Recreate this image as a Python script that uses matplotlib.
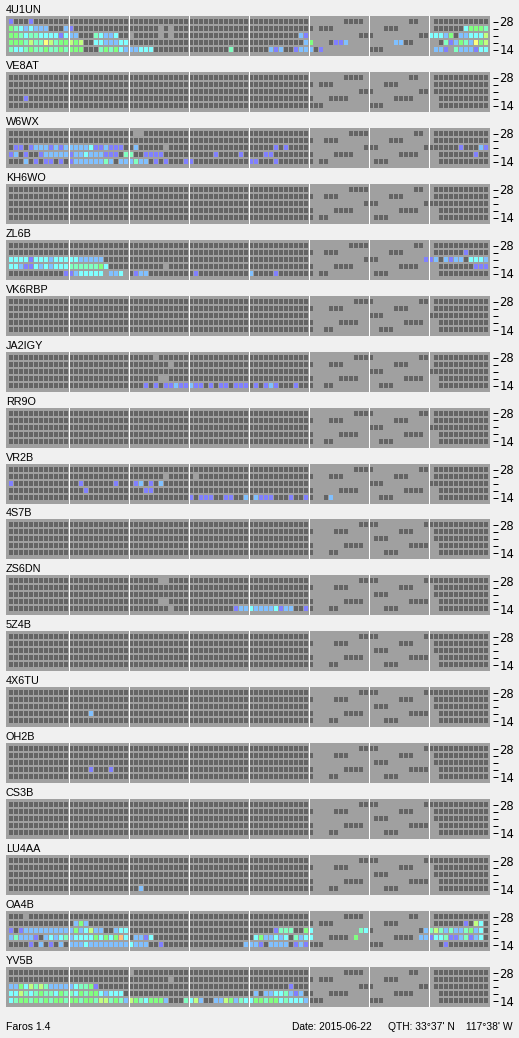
import numpy as np
import matplotlib
matplotlib.use("Agg")
import matplotlib.pyplot as plt
from matplotlib.colors import ListedColormap, BoundaryNorm

W, H, DPI = 519, 1038, 100

beacons = ["4U1UN", "VE8AT", "W6WX", "KH6WO", "ZL6B", "VK6RBP", "JA2IGY", "RR9O",
           "VR2B", "4S7B", "ZS6DN", "5Z4B", "4X6TU", "OH2B", "CS3B", "LU4AA",
           "OA4B", "YV5B"]
band_labels = ["28", "", "", "", "14"]          # rows top -> bottom (28,24,21,18,14 MHz)
n_slots = 96                                     # 15-minute slots over 24 h

# monitored (dark) slot ranges per band row, shared pattern
base_dark = [
    [(0, 59), (68, 71), (81, 82), (85, 95)],
    [(0, 60), (63, 65), (76, 78), (85, 95)],
    [(0, 59), (71, 73), (83, 84), (85, 95)],
    [(0, 60), (65, 68), (78, 81), (86, 95)],
    [(0, 60), (62, 63), (73, 75), (86, 95)],
]
# slot offset of the sparse monitoring pattern for each beacon
gray_shift = [-1, -1, 0, 0, 0, 1, 1, 1, 1, 2, 2, 2, 2, 2, 2, 2, -1, -1]

# codes: '#' monitored/no signal, '_' no data, '1'..'8' signal level, '.' keep
overlays = {
    "4U1UN": [(0, 0, "1"), (0, 4, "1"),
              (1, 0, "54323222"), (1, 11, "21"), (1, 30, "_._"), (1, 91, "35554"),
              (2, 0, "55434433331322"), (2, 17, "43223"), (2, 24, "_"), (2, 30, "_._"),
              (2, 58, "21"), (2, 84, "33325#223336"),
              (3, 0, "555464476455656"), (3, 17, "3322233"), (3, 59, "25"), (3, 65, "112"),
              (3, 77, "22"), (3, 87, "412542756"),
              (4, 0, "433454454454555"), (4, 18, "45453222333"), (4, 44, "4"),
              (4, 52, "212##1222"), (4, 62, "1"), (4, 85, "221_4222133")],
    "VE8AT": [(3, 3, "1")],
    "W6WX": [(0, 25, "__"),
             (2, 1, "11#1222121222223112111"), (2, 25, "2"), (2, 31, "_"), (2, 53, "1#1"),
             (2, 90, "1"), (2, 94, "21"),
             (3, 0, "12#1##1222221223222111#44##1111"), (3, 41, "1"), (3, 46, "1"),
             (3, 51, "11"), (3, 93, "1"),
             (4, 3, "2#1#11#1#122222242#222422#1#1"), (4, 35, "11"), (4, 48, "11"), (4, 53, "1")],
    "ZL6B": [(1, 91, "1"),
             (2, 0, "3333133323333322222"), (2, 83, "112#2122#3332"),
             (3, 0, "33211323233344444453"), (3, 31, "_"), (3, 93, "111"),
             (4, 11, "11233333_223_#122"), (4, 37, "1"), (4, 48, "2"), (4, 53, "1")],
    "JA2IGY": [(0, 29, "_"), (1, 32, "_"), (3, 30, "__"),
               (4, 27, "1#1#11211211#1#11#111#1#121###1")],
    "VR2B": [(1, 31, "_"), (1, 37, "_"),
             (2, 0, "1"), (2, 14, "1"), (2, 21, "1"), (2, 25, "12"), (2, 28, "1"), (2, 30, "2"),
             (3, 15, "1"), (3, 27, "11"),
             (4, 36, "1#111"), (4, 43, "11"), (4, 47, "2"), (4, 49, "2111"), (4, 56, "1"),
             (4, 59, "1"), (4, 64, "2")],
    "ZS6DN": [(0, 30, "__"), (3, 30, "__"), (4, 32, "_"), (4, 45, "122322223122##1")],
    "4X6TU": [(3, 16, "2")],
    "OH2B": [(3, 16, "1"), (3, 20, "1")],
    "LU4AA": [(4, 26, "2")],
    "OA4B": [(0, 3, "_"),
             (1, 13, "252"), (1, 91, "1"), (1, 93, "63"),
             (2, 0, "1#12222222222523622"), (2, 21, "233"), (2, 53, "1444##53"), (2, 70, "43"),
             (2, 83, "246424224523"),
             (3, 0, "242221#23234233335353583"), (3, 25, "2213"), (3, 49, "3522323#4233"),
             (3, 69, "5"), (3, 82, "2213341124123"),
             (4, 4, "1#2#1#2#"), (4, 12, "2223222222223222##1"), (4, 47, "2221#2222#121"),
             (4, 87, "1")],
    "YV5B": [(0, 24, "_"), (1, 32, "_"),
             (2, 0, "225364642222234451"), (2, 56, "1"),
             (3, 0, "33643454435443545532333"), (3, 49, "2#22334212"),
             (4, 0, "3455454545545545546645426543555" + "2###4362##226524335545534" + "3332")],
}

level_colors = ["#a0a0a0", "#646464", "#8080ff", "#80c0ff", "#80ffff", "#80ffc0",
                "#80ff80", "#c0ff80", "#ffff80", "#ffc080"]
code_value = {"_": 0, "#": 1}
code_value.update({str(k): k + 1 for k in range(1, 9)})


def build_grid(name, shift):
    g = np.zeros((5, n_slots), dtype=int)
    for r, ranges in enumerate(base_dark):
        for a, b in ranges:
            if 60 < a and b < 85:
                a, b = a + shift, b + shift
            g[r, max(a, 0):min(b, n_slots - 1) + 1] = 1
    for r, start, codes in overlays.get(name, []):
        for k, ch in enumerate(codes):
            if ch != "." and 0 <= start + k < n_slots:
                g[r, start + k] = code_value[ch]
    return g


cmap = ListedColormap(level_colors)
norm = BoundaryNorm(np.arange(-0.5, len(level_colors) + 0.5), cmap.N)

# cell geometry (in slot / row units)
CELL_W = 0.8
CELL_H = 5 / 7
xe = np.ravel([[c, c + CELL_W] for c in range(n_slots)])
ye = np.ravel([[r, r + CELL_H] for r in range(5)])

fig = plt.figure(figsize=(W / DPI, H / DPI), dpi=DPI, facecolor="#f0f0f0")
FONT = "Liberation Sans"

for i, name in enumerate(beacons):
    top = round(16 + 55.94 * i)
    ax = fig.add_axes([6 / W, 1 - (top + 40) / H, 484 / W, 40 / H])
    ax.set_facecolor("#a0a0a0")
    g = build_grid(name, gray_shift[i])
    full = np.full((9, 2 * n_slots - 1), np.nan)
    full[0::2, 0::2] = g
    data = np.ma.masked_invalid(full)
    ax.pcolormesh(xe, ye, data, cmap=cmap, norm=norm, shading="flat",
                  antialiased=False, edgecolors="none")
    for k in range(1, 8):
        ax.axvline(12 * k - 0.1, color="white", lw=0.72)
    ax.set_xlim(-0.6, 96.2)
    ax.set_ylim(37 / 7, -3 / 7)
    ax.set_xticks([])
    ax.set_yticks([r + CELL_H / 2 for r in range(5)])
    ax.set_yticklabels(band_labels, fontfamily=FONT)
    ax.yaxis.tick_right()
    ax.spines["right"].set_position(("outward", 2.2))
    for s in ax.spines.values():
        s.set_visible(False)
    ax.tick_params(axis="y", length=3.6, width=0.72, color="black", pad=1.0,
                   labelsize=8.4)
    ax.annotate(name, xy=(0, 1), xycoords="axes fraction", xytext=(0, 2.3),
                textcoords="offset points", ha="left", va="baseline",
                fontsize=7.8, fontfamily=FONT)

fig.text(6 / W, 1 - 1030 / H, "Faros 1.4", ha="left", va="baseline",
         fontsize=7.6, fontfamily=FONT)
fig.text(292 / W, 1 - 1030 / H, "Date: 2015-06-22", ha="left", va="baseline",
         fontsize=7.4, fontfamily=FONT)
fig.text(388 / W, 1 - 1030 / H, "QTH: 33°37' N", ha="left", va="baseline",
         fontsize=7.4, fontfamily=FONT)
fig.text(512 / W, 1 - 1030 / H, "117°38' W", ha="right", va="baseline",
         fontsize=7.4, fontfamily=FONT)

fig.savefig("out.png", dpi=DPI, facecolor=fig.get_facecolor())
